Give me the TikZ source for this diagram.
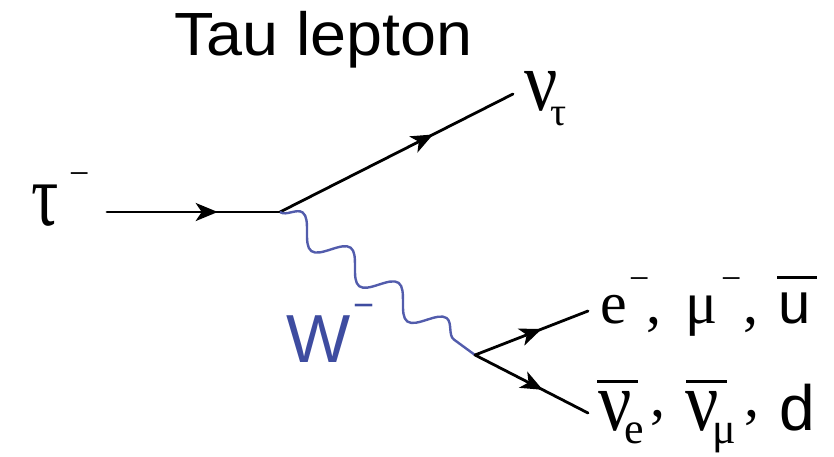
\documentclass[tikz,border=0pt]{standalone}
\usepackage{fontspec}
\usepackage{graphicx}
\usetikzlibrary{arrows.meta,decorations.markings,decorations.pathmorphing}
\newfontfamily\sff{Liberation Sans}
\newfontfamily\srf{Liberation Serif}
\newcommand\putat[2]{\rlap{\hspace*{#1}#2}}
\newcommand\fs[1]{\fontsize{#1}{#1}\selectfont}
\definecolor{wline}{RGB}{82,92,172}
\definecolor{wlab}{RGB}{62,76,160}
\tikzset{
  lbl/.style={inner sep=0pt, outer sep=0pt, anchor=base west},
  fermion/.style={line width=2.8pt, line cap=round, black,
    decoration={markings, mark=at position #1 with {\arrow{Stealth[length=22pt,width=18pt,inset=6pt]}}},
    postaction={decorate}},
  boson/.style={line width=2.4pt, wline,
    decoration={snake, segment length=59.5pt, amplitude=13pt}, decorate}
}
\begin{document}
\begin{tikzpicture}[x=1pt,y=-1pt]
\useasboundingbox (0,0) rectangle (834,456);
% title
\node[lbl] (title) at (174,55) {\sff\fs{61}\scalebox{1.06}[1]{Tau lepton}};
% labels
\node[lbl] (tau) at (31,225) {\srf\putat{0pt}{\scalebox{1}[1.3]{\fs{68}τ}}\putat{38pt}{\raisebox{40pt}{\fs{36}−}}\hspace*{60pt}};
\node[lbl] (nutau) at (524,110) {\srf\putat{0pt}{\scalebox{1}[1.15]{\fs{74}ν}}\putat{26pt}{\raisebox{-15pt}{\fs{40}τ}}\hspace*{42pt}};
\node[lbl,wlab] (W) at (286,362) {\sff\putat{0pt}{\fs{68}W}\putat{67pt}{\raisebox{45pt}{\fs{36}−}}\hspace*{90pt}};
\node[lbl] (up) at (600,323) {\srf
  \putat{0pt}{\fs{60}e}%
  \putat{29pt}{\raisebox{33pt}{\fs{36}−}}%
  \putat{46pt}{\fs{60},}%
  \putat{86pt}{\fs{60}μ}%
  \putat{121pt}{\raisebox{33pt}{\fs{36}−}}%
  \putat{143pt}{\fs{60},}%
  \putat{178pt}{\sff\fs{58}u}%
  \putat{177pt}{\rule[44pt]{40pt}{3.5pt}}%
  \hspace*{218pt}};
\node[lbl] (down) at (598,430) {\srf
  \putat{0pt}{\scalebox{1}[1.15]{\fs{74}ν}}%
  \putat{-1pt}{\rule[47pt]{41pt}{3.5pt}}%
  \putat{26pt}{\raisebox{-13pt}{\fs{44}e}}%
  \putat{52pt}{\raisebox{14pt}{\fs{60},}}%
  \putat{87pt}{\scalebox{1}[1.15]{\fs{74}ν}}%
  \putat{88pt}{\rule[47pt]{41pt}{3.5pt}}%
  \putat{114pt}{\raisebox{-13pt}{\fs{44}μ}}%
  \putat{146pt}{\raisebox{14pt}{\fs{60},}}%
  \putat{181pt}{\sff\fs{64}d}%
  \hspace*{214pt}};
% vertices and ends
\coordinate (in) at (107,212);
\coordinate (v1) at (280,212);
\coordinate (nuend) at (513,94);
\coordinate (v2) at (475,355);
\coordinate (eend) at (588,311);
\coordinate (nubarend) at (588,413);
% connectors
\draw[fermion=0.64] (in) -- (v1);
\draw[fermion=0.657] (v1) -- (nuend);
\draw[boson] (v1) -- (v2);
\draw[fermion=0.59] (v2) -- (eend);
\draw[fermion=0.6] (v2) -- (nubarend);
\end{tikzpicture}
\end{document}
